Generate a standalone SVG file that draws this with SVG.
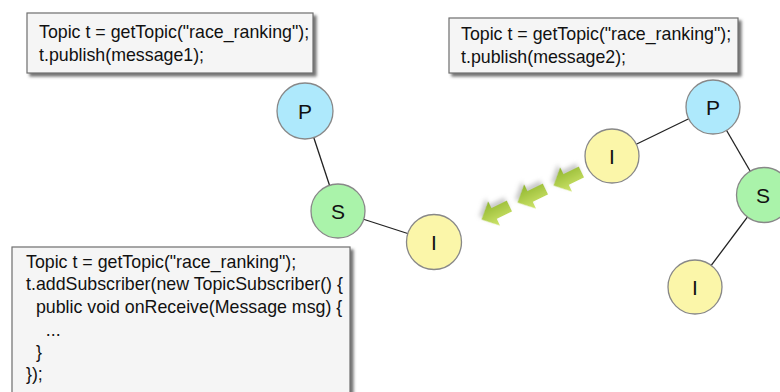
<svg xmlns="http://www.w3.org/2000/svg" width="780" height="392" viewBox="0 0 780 392">
<defs>
<style>
.box{fill:#f5f5f5;stroke:#6f6f6f;stroke-width:1.2;filter:url(#sh)}
.code{font-family:"Liberation Sans",Arial,sans-serif;font-size:17.8px;fill:#111;white-space:pre}
.edge{stroke:#222;stroke-width:1.3}
.node circle{stroke:#888;stroke-width:1.3}
.p{fill:#aee9fc}
.s{fill:#aaf3aa}
.i{fill:#fbf6a9}
.lbl{font-family:"Liberation Sans",Arial,sans-serif;font-size:21px;fill:#111;text-anchor:middle}
.arr{fill:url(#g);filter:url(#ash)}
</style>
<filter id="sh" x="-10%" y="-10%" width="130%" height="140%">
<feDropShadow dx="3" dy="3" stdDeviation="1.8" flood-color="#444" flood-opacity="0.75"/>
</filter>
<filter id="ash" x="-50%" y="-50%" width="200%" height="200%">
<feDropShadow dx="1" dy="4" stdDeviation="2" flood-color="#888" flood-opacity="0.45"/>
</filter>
<linearGradient id="g" x1="0" y1="0" x2="0" y2="1">
<stop offset="0" stop-color="#cfe56c"/>
<stop offset="1" stop-color="#8fb52c"/>
</linearGradient>
<path id="arrow" d="M-16,-6 L1,-6 L1,-13.5 L15,0 L1,13.5 L1,6 L-16,6 Z"/>
</defs>
<rect width="780" height="392" fill="#fff"/>

<g id="box-publish1">
<rect class="box" x="27" y="13" width="286" height="60"/>
<text class="code" x="39" y="38">Topic t = getTopic("race_ranking");</text>
<text class="code" x="39" y="61">t.publish(message1);</text>
</g>
<g id="box-publish2">
<rect class="box" x="449" y="18" width="289" height="55"/>
<text class="code" x="461" y="40">Topic t = getTopic("race_ranking");</text>
<text class="code" x="461" y="63">t.publish(message2);</text>
</g>

<g id="connectors">
<line class="edge" x1="305" y1="111" x2="338" y2="211"/>
<line class="edge" x1="338" y1="211" x2="434" y2="242"/>
<line class="edge" x1="713" y1="107" x2="612" y2="156"/>
<line class="edge" x1="713" y1="107" x2="764" y2="195"/>
<line class="edge" x1="764" y1="195" x2="695" y2="287"/>
</g>

<g id="flow-arrows">
<use href="#arrow" class="arr" transform="translate(567,179) rotate(154)"/>
<use href="#arrow" class="arr" transform="translate(531,196) rotate(154)"/>
<use href="#arrow" class="arr" transform="translate(495,213) rotate(154)"/>
</g>

<g id="node-p1" class="node"><circle class="p" cx="305" cy="111" r="28"/><text class="lbl" x="305" y="119">P</text></g>
<g id="node-s1" class="node"><circle class="s" cx="338" cy="211" r="27"/><text class="lbl" x="338" y="219">S</text></g>
<g id="node-i1" class="node"><circle class="i" cx="434" cy="242" r="27.5"/><text class="lbl" x="434" y="250">I</text></g>
<g id="node-p2" class="node"><circle class="p" cx="713" cy="107" r="27"/><text class="lbl" x="713" y="115">P</text></g>
<g id="node-i2" class="node"><circle class="i" cx="612" cy="156" r="27"/><text class="lbl" x="612" y="164">I</text></g>
<g id="node-s2" class="node"><circle class="s" cx="764" cy="195" r="27.5"/><text class="lbl" x="763" y="203">S</text></g>
<g id="node-i3" class="node"><circle class="i" cx="695" cy="287" r="27"/><text class="lbl" x="695" y="295">I</text></g>

<g id="box-subscribe">
<rect class="box" x="12" y="247" width="338" height="160"/>
<text class="code" x="26" y="268">Topic t = getTopic("race_ranking");</text>
<text class="code" x="26" y="290">t.addSubscriber(new TopicSubscriber() {</text>
<text class="code" x="26" y="313" xml:space="preserve">  public void onReceive(Message msg) {</text>
<text class="code" x="26" y="336" xml:space="preserve">    ...</text>
<text class="code" x="26" y="358" xml:space="preserve">  }</text>
<text class="code" x="26" y="380">});</text>
</g>
</svg>
